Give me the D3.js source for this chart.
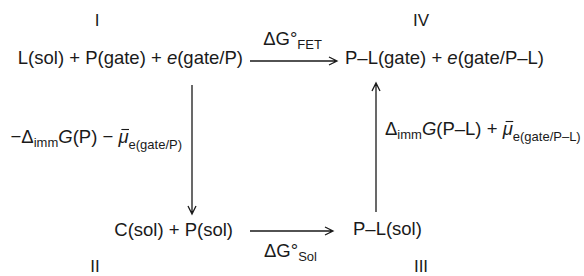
<!DOCTYPE html>
<html>
<head>
<meta charset="utf-8">
<script src="https://cdn.jsdelivr.net/npm/d3@7"></script>
<style>
  body { margin: 0; background: #fff; }
  text { font-family: "Liberation Sans", Arial, sans-serif; fill: #1a1a1a; }
</style>
</head>
<body>
<svg id="s1"></svg>
<script>
// states of the cycle (column, row)
var states = ["I", "II", "III", "IV"];
var stateCol = ["left", "left", "right", "right"];
var stateRow = ["top", "bottom", "bottom", "top"];

// species at each state, split in parts: [text, italic, subscript, bar]
var species = [
    [["L(sol) + P(gate) + ", 0, 0], ["e", 1, 0], ["(gate/P)", 0, 0]],
    [["C(sol) + P(sol)", 0, 0]],
    [["P\u2013L(sol)", 0, 0]],
    [["P\u2013L(gate) + ", 0, 0], ["e", 1, 0], ["(gate/P\u2013L)", 0, 0]]
];

// transitions: from, to, label
var steps = [
    { from: 0, to: 3, label: [["\u0394G\u00b0", 0, 0], ["FET", 0, 1]] },
    { from: 0, to: 1, label: [["\u2212\u0394", 0, 0], ["imm", 0, 1], ["G", 1, 0], ["(P) \u2212 ", 0, 0], ["\u03bc", 1, 0, 1], ["e(gate/P)", 0, 2]] },
    { from: 1, to: 2, label: [["\u0394G\u00b0", 0, 0], ["Sol", 0, 1]] },
    { from: 2, to: 3, label: [["\u0394", 0, 0], ["imm", 0, 1], ["G", 1, 0], ["(P\u2013L) + ", 0, 0], ["\u03bc", 1, 0, 1], ["e(gate/P\u2013L)", 0, 2]] }
];

var width = 584;
var height = 276;
var fontSize = 18.5;
var subSize = 13;

var svg = d3.select("#s1").attr("width", width).attr("height", height);

var x = d3.scalePoint().domain(["left", "right"]).range([192, 376]);
var y = d3.scalePoint().domain(["top", "bottom"]).range([64, 236]);

// write parts as tspans, subscripts shifted down, bar over marked letters
function rich(t, parts) {
    var prev = 0, idx = 0, bars = [];
    parts.forEach(function (p) {
        var shift = p[2] == 1 ? 4 : (p[2] == 2 ? 6 : 0);
        t.append("tspan")
            .attr("dy", shift - prev)
            .attr("font-size", p[2] ? subSize : fontSize)
            .attr("font-style", p[1] ? "italic" : "normal")
            .text(p[0]);
        if (p[3]) bars.push(idx);
        idx += p[0].length;
        prev = shift;
    });
    bars.forEach(function (k) {
        var b = t.node().getExtentOfChar(k);
        var by = b.y + 3.5;
        svg.append("line")
            .attr("x1", b.x + 3).attr("x2", b.x + b.width + 0.5)
            .attr("y1", by).attr("y2", by)
            .attr("stroke", "#1a1a1a").attr("stroke-width", 1.1);
    });
}

function arrow(x1, y1, x2, y2) {
    var a = Math.atan2(y2 - y1, x2 - x1);
    var len = 8, w = 4;
    var bx = x2 - len * Math.cos(a), by = y2 - len * Math.sin(a);
    var px = -Math.sin(a) * w, py = Math.cos(a) * w;
    svg.append("path")
        .attr("d", "M" + x1 + "," + y1 + "L" + x2 + "," + y2 +
            "M" + (bx + px) + "," + (by + py) + "L" + x2 + "," + y2 + "L" + (bx - px) + "," + (by - py))
        .attr("fill", "none")
        .attr("stroke", "#1a1a1a")
        .attr("stroke-width", 1.3);
}

// roman numerals
var numOffset = { left: -96, right: 44 };
var numY = { top: 26, bottom: 272 };
states.forEach(function (s, i) {
    svg.append("text")
        .attr("x", x(stateCol[i]) + numOffset[stateCol[i]] + (stateRow[i] == "bottom" && stateCol[i] == "left" ? -1 : 1))
        .attr("y", numY[stateRow[i]])
        .attr("text-anchor", "middle")
        .attr("font-size", 17)
        .text(s);
});

// species text
var spPos = [
    { dx: 51, dy: 0, anchor: "end" },
    { dx: 41, dy: 0, anchor: "end" },
    { dx: -23, dy: -1, anchor: "start" },
    { dx: -31, dy: 0, anchor: "start" }
];
species.forEach(function (parts, i) {
    var t = svg.append("text")
        .attr("x", x(stateCol[i]) + spPos[i].dx)
        .attr("y", y(stateRow[i]) + spPos[i].dy)
        .attr("text-anchor", spPos[i].anchor)
        .attr("font-size", fontSize);
    rich(t, parts);
});

// arrows and their labels
steps.forEach(function (st) {
    var c1 = stateCol[st.from], c2 = stateCol[st.to];
    var r1 = stateRow[st.from], r2 = stateRow[st.to];
    var t = svg.append("text").attr("font-size", fontSize);
    if (r1 == r2) {
        var ay = y(r1) - (r1 == "top" ? 3 : 5);
        var x2 = x(c2) - (r1 == "top" ? 39 : 43);
        arrow(x(c1) + 58, ay, x2, ay);
        var mid = (x(c1) + 58 + x2) / 2;
        t.attr("x", mid - 1)
            .attr("y", r1 == "top" ? ay - 16 : ay + 26)
            .attr("text-anchor", "middle");
    } else {
        var down = r1 == "top";
        var xc = x(c1);
        if (down) {
            arrow(xc, y("top") + 21, xc, y("bottom") - 22);
            t.attr("x", xc - 10).attr("y", 143).attr("text-anchor", "end");
        } else {
            arrow(xc, y("bottom") - 24, xc, y("top") + 19);
            t.attr("x", xc + 9).attr("y", 135).attr("text-anchor", "start");
        }
    }
    rich(t, st.label);
});
</script>
</body>
</html>
